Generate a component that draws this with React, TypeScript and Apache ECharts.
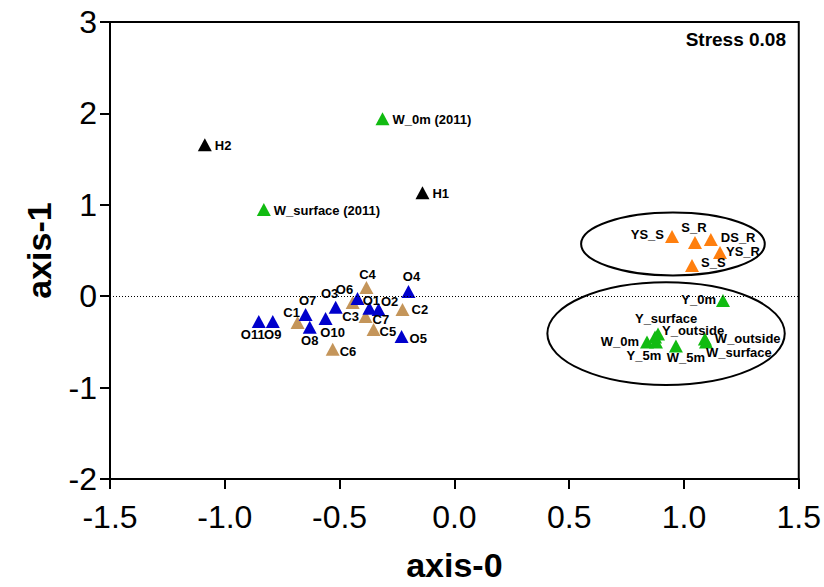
import React, { useEffect, useRef } from "react";
import * as echarts from "echarts";

// ---- data (axis-0, axis-1) ----
const hNames = ["H2", "H1"];
const hX = [-1.087, -0.139];
const hY = [1.657, 1.133];

const gNames = ["W_0m (2011)", "W_surface (2011)", "Y_0m", "W_0m", "Y_5m", "Y_surface", "Y_outside", "W_5m", "W_outside", "W_surface"];
const gX = [-0.313, -0.83, 1.17, 0.839, 0.878, 0.874, 0.887, 0.965, 1.091, 1.096];
const gY = [1.941, 0.948, -0.046, -0.5, -0.5, -0.446, -0.413, -0.544, -0.467, -0.5];

const oNames = ["YS_S", "S_R", "DS_R", "YS_R", "S_S"];
const oX = [0.948, 1.048, 1.117, 1.157, 1.035];
const oY = [0.653, 0.587, 0.62, 0.478, 0.336];

const cNames = ["C4", "C3", "C2", "C7", "C5", "C6", "C1"];
const cX = [-0.383, -0.443, -0.226, -0.387, -0.352, -0.53, -0.683];
const cY = [0.096, -0.068, -0.145, -0.221, -0.363, -0.581, -0.287];

const bNames = ["O4", "O6", "O3", "O1", "O2", "O7", "O10", "O8", "O11", "O9", "O5"];
const bX = [-0.2, -0.422, -0.517, -0.37, -0.33, -0.648, -0.561, -0.63, -0.852, -0.791, -0.23];
const bY = [0.052, -0.024, -0.122, -0.133, -0.145, -0.199, -0.243, -0.341, -0.276, -0.276, -0.44];

const xTicks = [-1.5, -1.0, -0.5, 0.0, 0.5, 1.0, 1.5];
const yTicks = [-2, -1, 0, 1, 2, 3];
const stressText = "Stress 0.08";

// ellipses: [cx, cy, rx, ry] in data units
const ellipseUpper = [0.952, 0.571, 0.4, 0.344];
const ellipseLower = [0.922, -0.409, 0.517, 0.562];

// ---- label placement (style) : [align, dx, dy] relative to the triangle centre ----
const labelPlace: Record<string, [string, number, number]> = {
  H2: ["left", 10, 1],
  H1: ["left", 10, 1],
  "W_0m (2011)": ["left", 10, 1],
  "W_surface (2011)": ["left", 10, 1],
  YS_S: ["right", -8, -2],
  S_R: ["center", -1, -15],
  DS_R: ["left", 10, -2],
  YS_R: ["left", 6, -1],
  S_S: ["left", 9, -3],
  Y_0m: ["right", -7, -1],
  W_0m: ["right", -8, 0],
  Y_5m: ["center", -12, 14],
  Y_surface: ["center", 11, -18],
  Y_outside: ["left", 4, -3],
  W_5m: ["center", 10, 12],
  W_outside: ["left", 10, 0],
  W_surface: ["left", 0, 11],
  C4: ["center", 1, -13],
  C3: ["center", -2, 14],
  C2: ["left", 9, 0],
  C7: ["left", 7, 3],
  C5: ["left", 6, 2],
  C6: ["left", 7, 2],
  C1: ["center", -6, -10],
  O4: ["center", 3, -15],
  O6: ["center", -13, -9],
  O3: ["center", -6, -14],
  O1: ["center", 2, -8],
  O2: ["center", 11, -8],
  O7: ["center", 2, -14],
  O10: ["center", 7, 14],
  O8: ["center", 0, 13],
  O11: ["center", -6, 13],
  O9: ["center", 0, 13],
  O5: ["left", 8, 2],
};

const FONT = "'Liberation Sans', Arial, Helvetica, sans-serif";
const SYM_W = 14;
const SYM_H = 13;

function buildData(names: string[], xs: number[], ys: number[]) {
  return names.map((n, i) => {
    const p = labelPlace[n] || ["left", 9, 0];
    return {
      name: n,
      value: [xs[i], ys[i]],
      label: {
        position: [SYM_W / 2 + p[1], SYM_H / 2 + p[2]],
        align: p[0],
        verticalAlign: "middle",
      },
    };
  });
}

function scatter(name: string, color: string, names: string[], xs: number[], ys: number[]) {
  return {
    type: "scatter",
    name,
    symbol: "triangle",
    symbolSize: [SYM_W, SYM_H],
    itemStyle: { color, opacity: 1 },
    label: {
      show: true,
      formatter: "{b}",
      color: "#000",
      fontFamily: FONT,
      fontWeight: "bold",
      fontSize: 13,
    },
    labelLayout: { hideOverlap: false },
    emphasis: { disabled: true },
    data: buildData(names, xs, ys),
  };
}

export default function App() {
  const ref = useRef<HTMLDivElement>(null);
  useEffect(() => {
    if (!ref.current) return;
    const chart = echarts.init(ref.current, null, { renderer: "svg" });
    const option: any = {
      animation: false,
      backgroundColor: "#fff",
      grid: {
        left: 110,
        right: 24,
        top: 22,
        bottom: 107,
        show: true,
        borderColor: "#000",
        borderWidth: 2,
        backgroundColor: "transparent",
      },
      xAxis: {
        type: "value",
        min: xTicks[0],
        max: xTicks[xTicks.length - 1],
        interval: 0.5,
        name: "axis-0",
        nameLocation: "middle",
        nameGap: 69,
        nameTextStyle: { fontFamily: FONT, fontWeight: "bold", fontSize: 34, color: "#000" },
        axisLine: { onZero: false, lineStyle: { color: "#000", width: 2 } },
        axisTick: { show: true, length: 10, lineStyle: { color: "#000", width: 2 } },
        axisLabel: {
          fontFamily: FONT,
          fontSize: 32,
          color: "#000",
          margin: 22,
          formatter: (v: number) => v.toFixed(1),
        },
        splitLine: { show: false },
      },
      yAxis: {
        type: "value",
        min: yTicks[0],
        max: yTicks[yTicks.length - 1],
        interval: 1,
        name: "axis-1",
        nameLocation: "middle",
        nameGap: 54,
        nameTextStyle: { fontFamily: FONT, fontWeight: "bold", fontSize: 34, color: "#000" },
        axisLine: { onZero: false, lineStyle: { color: "#000", width: 2 } },
        axisTick: { show: true, length: 10, lineStyle: { color: "#000", width: 2 } },
        axisLabel: { fontFamily: FONT, fontSize: 32, color: "#000", margin: 13 },
        splitLine: { show: false },
      },
      series: [
        {
          type: "line",
          data: [],
          silent: true,
          markLine: {
            silent: true,
            symbol: "none",
            label: { show: false },
            lineStyle: { color: "#000", type: [1, 2], width: 1 },
            data: [{ yAxis: 0 }],
          },
        },
        scatter("C", "#C4955A", cNames, cX, cY),
        scatter("O", "#0000CC", bNames, bX, bY),
        scatter("H", "#000000", hNames, hX, hY),
        scatter("O2", "#FF7F0E", oNames, oX, oY),
        scatter("G", "#11BB11", gNames, gX, gY),
      ],
    };
    chart.setOption(option);

    const toEllipse = (e: number[]) => {
      const c = chart.convertToPixel({ gridIndex: 0 }, [e[0], e[1]]) as number[];
      const px = chart.convertToPixel({ gridIndex: 0 }, [e[0] + e[2], e[1] + e[3]]) as number[];
      return {
        type: "ellipse",
        shape: { cx: c[0], cy: c[1], rx: Math.abs(px[0] - c[0]), ry: Math.abs(px[1] - c[1]) },
        style: { fill: "none", stroke: "#000", lineWidth: 2 },
        silent: true,
        z: 1,
      };
    };

    chart.setOption({
      graphic: [
        toEllipse(ellipseUpper),
        toEllipse(ellipseLower),
        {
          type: "text",
          right: 38,
          top: 30,
          style: {
            text: stressText,
            fontFamily: FONT,
            fontWeight: "bold",
            fontSize: 19,
            fill: "#000",
          },
        },
      ],
    });
    return () => chart.dispose();
  }, []);
  return <div ref={ref} style={{ width: 824, height: 587, position: "absolute", left: 0, top: 0 }} />;
}
